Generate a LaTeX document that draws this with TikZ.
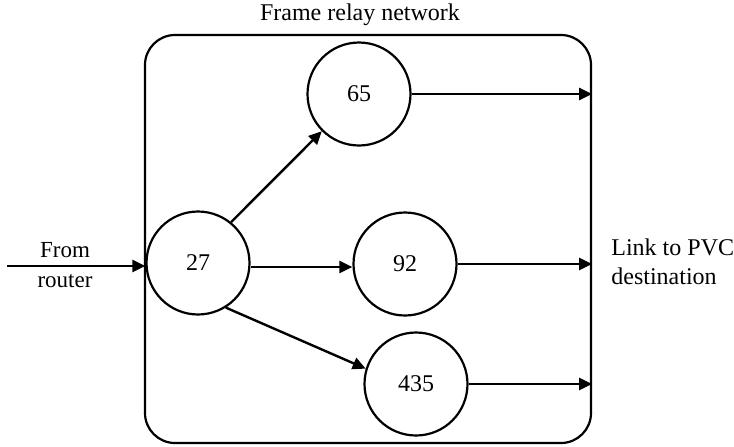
\documentclass[tikz,border=0pt]{standalone}
\usepackage{fontspec}
\setmainfont{Liberation Serif}
\usetikzlibrary{arrows.meta}
\begin{document}
\begin{tikzpicture}[x=0.5pt,y=-0.5pt,
  nodecirc/.style={draw,circle,line width=1.1pt,minimum size=51.5pt,inner sep=0pt,font=\fontsize{12}{14}\selectfont},
  conn/.style={line width=1.2pt,-{Triangle[length=6.5pt,width=6pt]}},
  lbl/.style={font=\fontsize{12}{13.5}\selectfont,inner sep=0pt}]
\useasboundingbox (0,0) rectangle (734,446);
\node[draw,line width=1.1pt,rounded corners=15pt,minimum width=223pt,minimum height=204pt,inner sep=0pt] (box) at (368,239) {};
\node[lbl] (title) at (360,15) {Frame relay network};
\node[nodecirc] (n27) at (198,263) {27};
\node[nodecirc] (n65) at (359,94) {65};
\node[nodecirc] (n92) at (405,264) {92};
\node[nodecirc] (n435) at (416,384) {435};
\coordinate (src) at (7,266);
\node[lbl,align=center,font=\fontsize{11.5}{15}\selectfont] (from) at (65,265) {From\\router};
\node[lbl,align=left,anchor=west,font=\fontsize{12}{14.5}\selectfont] (link) at (611,262) {Link to PVC\\destination};
\draw[conn] (src) -- (n27.west |- src);
\draw[conn] (n27.51) -- (n65.225);
\draw[conn] (n27.east |- 0,267) -- (n92.west |- 0,267);
\draw[conn] (n27.-58) -- (n435.163);
\draw[conn] (n65.east) -- (box.east |- n65.east);
\draw[conn] (n92.east) -- (box.east |- n92.east);
\draw[conn] (n435.east) -- (box.east |- n435.east);
\end{tikzpicture}
\end{document}
